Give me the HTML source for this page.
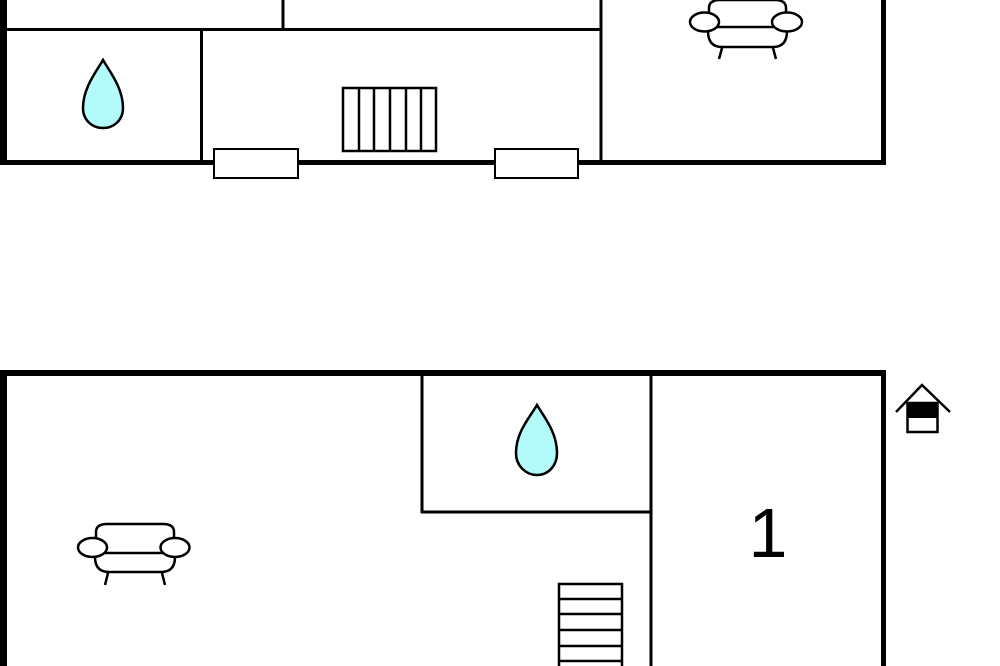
<!DOCTYPE html>
<html><head><meta charset="utf-8"><style>
html,body{margin:0;padding:0;background:#fff;width:1000px;height:666px;overflow:hidden}
</style></head><body>
<svg width="1000" height="666" viewBox="0 0 1000 666" xmlns="http://www.w3.org/2000/svg">
<g fill="none" stroke="#000">
<!-- TOP PLAN -->
<line x1="3.5" y1="0" x2="3.5" y2="165" stroke-width="7"/>
<line x1="0" y1="162.5" x2="886" y2="162.5" stroke-width="5"/>
<line x1="883.5" y1="0" x2="883.5" y2="165" stroke-width="5"/>
<line x1="6" y1="29.5" x2="601" y2="29.5" stroke-width="3"/>
<line x1="283" y1="0" x2="283" y2="29" stroke-width="3"/>
<line x1="201.5" y1="29" x2="201.5" y2="162" stroke-width="3"/>
<line x1="601" y1="0" x2="601" y2="162" stroke-width="3"/>
<rect x="214" y="149" width="84" height="29" fill="#fff" stroke-width="2"/>
<rect x="495" y="149" width="83" height="29" fill="#fff" stroke-width="2"/>
<rect x="343" y="88" width="93" height="63" fill="#fff" stroke-width="2.5"/>
<g stroke-width="2.5"><line x1="359" y1="88" x2="359" y2="151"/><line x1="374" y1="88" x2="374" y2="151"/><line x1="390" y1="88" x2="390" y2="151"/><line x1="406" y1="88" x2="406" y2="151"/><line x1="421" y1="88" x2="421" y2="151"/></g>
<path d="M103 60 C96 72 83 88 83 108 C83 120 92 128 103 128 C114 128 123 120 123 108 C123 88 110 72 103 60 Z" fill="#b3fbfb" stroke-width="2.5"/>
<!-- sofa top -->
<g stroke-width="2.5">
<path d="M709 22 L709 8 Q709 0 720 0 L775 0 Q786 0 786 8 L786 22"/>
<path d="M708 31 Q708 47 722 47 L773 47 Q787 47 787 31"/>
<line x1="714" y1="27" x2="780" y2="27"/>
<ellipse cx="704.5" cy="22" rx="14.5" ry="9.5" fill="#fff"/>
<ellipse cx="787" cy="22" rx="15" ry="9.5" fill="#fff"/>
<line x1="722" y1="48" x2="719" y2="59"/><line x1="773" y1="48" x2="776" y2="59"/>
</g>
<!-- BOTTOM PLAN -->
<line x1="0" y1="373" x2="886" y2="373" stroke-width="6"/>
<line x1="3.5" y1="370" x2="3.5" y2="666" stroke-width="7"/>
<line x1="883.5" y1="370" x2="883.5" y2="666" stroke-width="5"/>
<line x1="422" y1="373" x2="422" y2="513" stroke-width="3"/>
<line x1="421" y1="512" x2="651" y2="512" stroke-width="3"/>
<line x1="651" y1="373" x2="651" y2="666" stroke-width="3"/>
<path d="M537 405 C530 417 516 432 516 453 C516 466 526 475 537 475 C548 475 557 466 557 453 C557 432 544 417 537 405 Z" fill="#b3fbfb" stroke-width="2.5"/>
<rect x="559" y="584" width="63" height="90" stroke-width="2.5"/>
<g stroke-width="2.5"><line x1="559" y1="599" x2="622" y2="599"/><line x1="559" y1="614" x2="622" y2="614"/><line x1="559" y1="630" x2="622" y2="630"/><line x1="559" y1="646" x2="622" y2="646"/><line x1="559" y1="661" x2="622" y2="661"/></g>
<!-- sofa bottom -->
<g stroke-width="2.5">
<path d="M96 545 L96 532 Q96 524 107 524 L163 524 Q174 524 174 532 L174 545"/>
<path d="M95 557 Q95 572 109 572 L161 572 Q175 572 175 557"/>
<line x1="100" y1="553" x2="170" y2="553"/>
<ellipse cx="92.5" cy="547.5" rx="14.5" ry="9.5" fill="#fff"/>
<ellipse cx="175" cy="547.5" rx="14.5" ry="9.5" fill="#fff"/>
<line x1="108" y1="573" x2="105" y2="585"/><line x1="162" y1="573" x2="165" y2="585"/>
</g>
<!-- house icon -->
<polyline points="896,412 922,385 950,412" stroke-width="2.5"/>
<rect x="907.5" y="403" width="30" height="29" fill="#fff" stroke-width="2.5"/>
<rect x="908" y="403" width="29" height="15" fill="#000" stroke="none"/>
</g>
<text x="768" y="557" font-family="Liberation Sans, sans-serif" font-size="70" text-anchor="middle" fill="#000">1</text>
</svg>
</body></html>
